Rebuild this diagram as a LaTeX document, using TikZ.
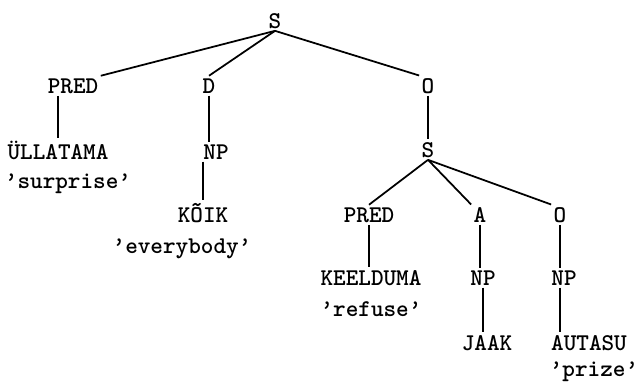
\documentclass[tikz,border=0pt]{standalone}
\usepackage{fontspec}
\usepackage{tikz}
\tikzset{
  treenode/.style = {inner sep=2pt, anchor=base,
    font=\ttfamily\bfseries\fontsize{20.5}{22}\selectfont},
  cat/.style = {treenode},% categorie
  lex/.style = {treenode},% mot estonien
  gloss/.style = {treenode},% glose anglaise
  branch/.style = {line width=1.5pt, black}
}

\begin{document}
\begin{tikzpicture}[x=0.03cm,y=-0.03cm]
\useasboundingbox (0,0) rectangle (639,383);
% top level
\node [cat] (s) at (275,28) {S};
\node [cat] (pred) at (73,93) {PRED};
\node [cat] (d) at (209,93) {D};
\node [cat] (o) at (428,93) {O};
\node [lex] (ullatama) at (58,159) {ÜLLATAMA};
\node [gloss] (surprise) at (68,188) {’surprise’};
\node [cat] (np) at (216,159) {NP};
\node [lex] (koik) at (203,222) {KÕIK};
\node [gloss] (everybody) at (182,253) {’everybody’};
% embedded clause
\node [cat] (s2) at (428,157) {S};
\node [cat] (pred2) at (369,222) {PRED};
\node [cat] (a) at (480,222) {A};
\node [cat] (o2) at (560,222) {O};
\node [lex] (keelduma) at (371,285) {KEELDUMA};
\node [gloss] (refuse) at (371,316) {’refuse’};
\node [cat] (np2) at (483,285) {NP};
\node [cat] (np3) at (564,285) {NP};
\node [lex] (jaak) at (487,350) {JAAK};
\node [lex] (autasu) at (589,350) {AUTASU};
\node [gloss] (prize) at (594,376) {’prize’};

\draw [branch] (s.south) -- (pred.north east);
\draw [branch] (s.south) -- (d.north);
\draw [branch] (s.south) -- (o.north west);
\draw [branch] (pred.south -| ullatama.north) -- (ullatama.north);
\draw [branch] (d.south) -- (d.south |- np.north);
\draw [branch] (np.south -| koik.north) -- (koik.north);
\draw [branch] (o.south) -- (o.south |- s2.north);
\draw [branch] (s2.south) -- (pred2.north);
\draw [branch] (s2.south) -- (a.north west);
\draw [branch] (s2.south) -- (o2.north west);
\draw [branch] (pred2.south) -- (pred2.south |- keelduma.north);
\draw [branch] (a.south) -- (a.south |- np2.north);
\draw [branch] (np2.south) -- (np2.south |- jaak.north);
\draw [branch] (o2.south) -- (o2.south |- np3.north);
\draw [branch] (np3.south -| o2.south) -- (o2.south |- autasu.north);
\end{tikzpicture}
\end{document}
